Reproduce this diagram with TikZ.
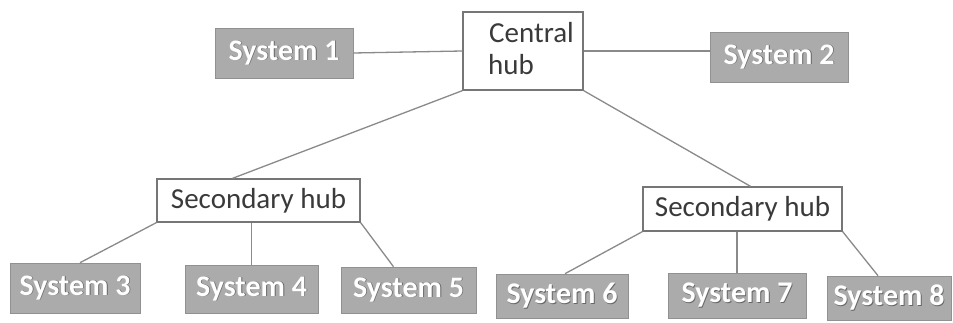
\documentclass[tikz,border=0pt]{standalone}
\usepackage{fontspec}
\setmainfont{Carlito}
\definecolor{sysfill}{HTML}{ABABAB}
\definecolor{linegray}{HTML}{8A8A8A}
\definecolor{boxedge}{HTML}{767676}
\definecolor{hubink}{HTML}{3A3A3A}
% white lettering with a soft dark edge, as on the grey system tiles
\newcommand{\embossed}[1]{\leavevmode\rlap{\kern0.9pt\raisebox{-0.9pt}{\textcolor{black!60}{#1}}}\textcolor{white}{#1}}
\tikzset{
  sysbox/.style={fill=sysfill, draw=sysfill!85!black, line width=0.6pt, inner sep=0pt,
    font=\fontsize{30}{34}\selectfont\bfseries},
  hubbox/.style={draw=boxedge, line width=1.3pt, fill=white, inner sep=0pt,
    text=hubink, font=\fontsize{29}{32}\selectfont},
  hubline/.style={text=hubink, font=\fontsize{29}{32}\selectfont, inner sep=0pt},
  link/.style={draw=linegray, line width=1.3pt}
}
\begin{document}
\begin{tikzpicture}[x=1pt, y=-1pt]
\useasboundingbox[fill=white] (0,0) rectangle (953,323);

% connectors go first so the boxes sit on top of their ends
\coordinate (cSW) at (463,90);
\coordinate (cSE) at (583,90);

% top level
\node[hubbox, minimum width=120pt, minimum height=78pt] (central) at (523,51) {};
\node[hubline, anchor=base west] (centralA) at (489,43) {Central};
\node[hubline, anchor=base west] (centralB) at (488,75) {hub};
\node[sysbox, minimum width=138pt, minimum height=50pt] (sys1) at (284,53) {\embossed{System 1}};
\node[sysbox, minimum width=138pt, minimum height=50pt] (sys2) at (779,57) {\embossed{System 2}};

% secondary hubs
\node[hubbox, minimum width=203pt, minimum height=43pt] (hubL) at (258.5,200.5) {Secondary hub};
\node[hubbox, minimum width=199pt, minimum height=44pt] (hubR) at (742.5,209) {Secondary hub};

% leaf systems
\node[sysbox, minimum width=130pt, minimum height=50pt] (sys3) at (75,288) {\embossed{System 3}};
\node[sysbox, minimum width=133pt, minimum height=48pt] (sys4) at (251.5,289) {\embossed{System 4}};
\node[sysbox, minimum width=135pt, minimum height=46pt] (sys5) at (408.5,290) {\embossed{System 5}};
\node[sysbox, minimum width=132pt, minimum height=44pt] (sys6) at (562,296) {\embossed{System 6}};
\node[sysbox, minimum width=138pt, minimum height=45pt] (sys7) at (737,295.5) {\embossed{System 7}};
\node[sysbox, minimum width=124pt, minimum height=44pt] (sys8) at (889,298) {\embossed{System 8}};

% connectors
\draw[link] (sys1.east) -- (central.west);
\draw[link] (central.east) -- (sys2.west |- central.east);
\draw[link] (central.south west) -- ([xshift=-26pt]hubL.north);
\draw[link] (central.south east) -- ([xshift=8pt]hubR.north);
\draw[link] (hubL.south west) -- ([xshift=5pt]sys3.north);
\draw[link] (sys4.north |- hubL.south) -- (sys4.north);
\draw[link] (hubL.south east) -- ([xshift=-15pt]sys5.north);
\draw[link] (hubR.south west) -- ([xshift=3pt]sys6.north);
\draw[link] (sys7.north |- hubR.south) -- (sys7.north);
\draw[link] (hubR.south east) -- ([xshift=-11pt]sys8.north);
\end{tikzpicture}
\end{document}
